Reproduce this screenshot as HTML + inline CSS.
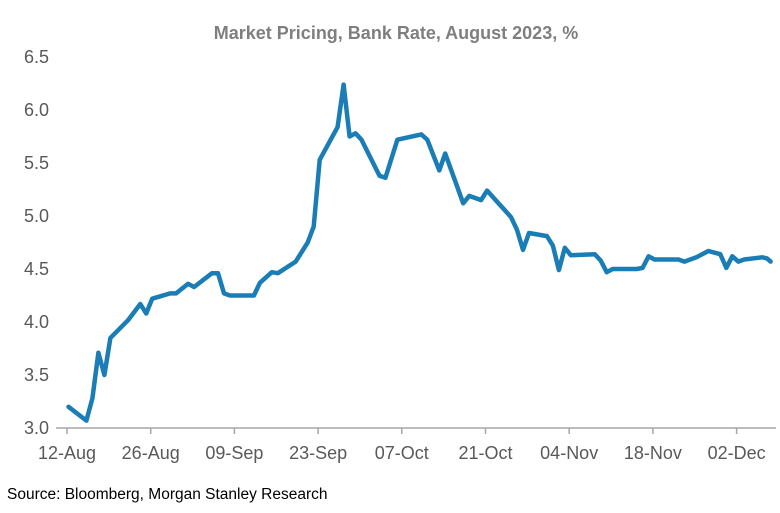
<!DOCTYPE html>
<html><head><meta charset="utf-8"><style>
body{margin:0;background:#fff;}
svg{display:block;font-family:"Liberation Sans",Arial,sans-serif;}
</style></head><body>
<svg id="chart" width="780" height="513">
<text x="396" y="39" text-anchor="middle" font-size="18" font-weight="bold" fill="#7f7f7f">Market Pricing, Bank Rate, August 2023, %</text>
<g id="yaxis"></g>
<g id="xaxis"></g>
<g id="plot"></g>
<text x="7" y="499" font-size="15.5" fill="#000">Source: Bloomberg, Morgan Stanley Research</text>
</svg>
<script>
const xTickLabels=["12-Aug","26-Aug","09-Sep","23-Sep","07-Oct","21-Oct","04-Nov","18-Nov","02-Dec"];
const yTicks=[3.0,3.5,4.0,4.5,5.0,5.5,6.0,6.5];
const days=[0,3,4,5,6,7,10,12,13,14,17,18,20,21,24,25,26,27,28.5,31,32,34,35,38,40,41,42,45,46,47,48,49,52,53,55,59,60,62,63,66,67,69,70,74,75,76,77,80,81,82,83,84,88,89,90,91,95,96,97,98,102,103,105,107,109,110,111,112,113,116,116.8,117.4];
const rates=[3.20,3.07,3.28,3.71,3.50,3.85,4.02,4.17,4.08,4.22,4.27,4.27,4.36,4.33,4.46,4.46,4.27,4.25,4.25,4.25,4.37,4.47,4.46,4.57,4.75,4.90,5.53,5.84,6.24,5.75,5.78,5.72,5.38,5.36,5.72,5.77,5.72,5.43,5.59,5.12,5.19,5.15,5.24,4.99,4.87,4.68,4.84,4.81,4.72,4.49,4.70,4.63,4.64,4.58,4.47,4.50,4.50,4.51,4.62,4.59,4.59,4.57,4.61,4.67,4.64,4.51,4.62,4.57,4.59,4.61,4.60,4.57];
const NS="http://www.w3.org/2000/svg";
const xS=d=>68.5+d*5.98;
const xT=i=>67+i*83.7;
const yS=v=>428-(v-3)*106;
function mk(tag,attrs,parent){const e=document.createElementNS(NS,tag);for(const k in attrs)e.setAttribute(k,attrs[k]);parent.appendChild(e);return e;}
const ya=document.getElementById('yaxis'),xa=document.getElementById('xaxis'),pl=document.getElementById('plot');
yTicks.forEach(v=>{const t=mk('text',{x:49,y:yS(v)+6,'text-anchor':'end','font-size':18,fill:'#595959'},ya);t.textContent=v.toFixed(1);

});
const ax=mk('line',{x1:56,x2:776,y1:428,y2:428,stroke:'#a6a6a6','stroke-width':1.5},xa);


xTickLabels.forEach((l,i)=>{const x=xT(i);
const tk=mk('line',{x1:x,x2:x,y1:428,y2:434,stroke:'#a6a6a6','stroke-width':1.5},xa);


const t=mk('text',{x:x,y:459,'text-anchor':'middle','font-size':18,fill:'#595959'},xa);t.textContent=l;

});
const pts=days.map((d,i)=>xS(d).toFixed(1)+','+yS(rates[i]).toFixed(1)).join(' ');
const line=mk('polyline',{points:pts,fill:'none',stroke:'#1a7db5','stroke-width':4.5,'stroke-linejoin':'round','stroke-linecap':'round'},pl);


</script>
</body></html>
